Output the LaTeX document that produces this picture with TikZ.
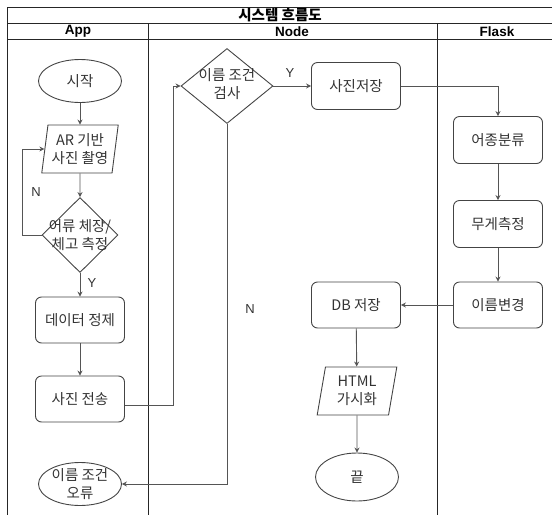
\documentclass[tikz,border=0pt]{standalone}
\usepackage{fontspec}
\setmainfont{Noto Sans CJK KR}
\newfontfamily\latf{Liberation Sans}
\usetikzlibrary{shapes.geometric,arrows.meta}
\definecolor{txt}{HTML}{333333}
\definecolor{edge}{HTML}{444444}
\definecolor{conn}{HTML}{555555}
\tikzset{
  base/.style={draw=edge, line width=0.9pt, text=txt, font=\fontsize{14.5}{18}\selectfont, align=center, inner sep=0pt},
  procbox/.style={base, rectangle, rounded corners=6pt, minimum width=89pt, minimum height=46pt},
  termbox/.style={base, ellipse, minimum width=83pt, minimum height=43pt},
  iobox/.style={base, trapezium, trapezium left angle=80, trapezium right angle=100, trapezium stretches=true, minimum width=77pt, minimum height=48pt},
  decbox/.style={base, diamond, minimum width=#1, minimum height=75pt},
  lbl/.style={text=txt, font=\fontsize{14.5}{18}\selectfont, align=center, inner sep=0pt},
  yn/.style={text=txt, font=\latf\fontsize{13}{15}\selectfont, inner sep=0pt},
  flow/.style={draw=conn, line width=0.9pt, -{Stealth[length=5pt,width=5pt]}},
  frame/.style={draw=black!85, line width=0.9pt},
  hdr/.style={font=\latf\bfseries\fontsize{13.5}{15}\selectfont, inner sep=0pt},
  ttl/.style={font=\bfseries\fontsize{14.5}{16}\selectfont, inner sep=0pt}
}
\begin{document}
\begin{tikzpicture}[x=1pt,y=-1pt]
\useasboundingbox (0,0) rectangle (552,515);
% frame
\draw[frame] (7,7) -- (552,7);
\draw[frame] (7,23) -- (552,23);
\draw[frame] (7,39) -- (552,39);
\draw[frame] (7,7) -- (7,515);
\draw[frame] (148,23) -- (148,515);
\draw[frame] (437,23) -- (437,515);
\node[ttl] (title) at (280,15) {시스템 흐름도};
\node[hdr] (happ) at (78,31.5) {App};
\node[hdr] (hnode) at (292,31.5) {Node};
\node[hdr] (hflask) at (497,31.5) {Flask};
% App lane
\node[termbox] (start) at (80,81) {시작};
\node[iobox] (ar) at (80,149) {AR 기반\\사진 촬영};
\node[decbox=76pt] (d1) at (80,235) {};
\node[lbl] (d1t) at (80,235) {어류 체장/\\체고 측정};
\node[procbox] (clean) at (80,320) {데이터 정제};
\node[procbox] (send) at (80,399) {사진 전송};
\node[termbox] (err) at (80,484) {};
\node[lbl] (errt) at (80,484) {이름 조건\\오류};
% Node lane
\node[decbox=92pt] (d2) at (227,86) {};
\node[lbl] (d2t) at (227,84) {이름 조건\\검사};
\node[procbox, minimum height=47pt] (save) at (356,86) {사진저장};
\node[procbox] (db) at (356,305) {DB 저장};
\node[iobox, minimum width=80pt] (html) at (357,391) {HTML\\가시화};
\node[termbox, minimum height=48pt] (end) at (357,477) {끝};
% Flask lane
\node[procbox, minimum height=47pt] (cls) at (498,140) {어종분류};
\node[procbox, minimum height=47pt] (wt) at (498,224) {무게측정};
\node[procbox] (rn) at (498,305) {이름변경};
% connectors
\draw[flow] (start) -- (ar);
\draw[flow] (ar) -- (d1);
\draw[flow] (d1.west) -- ++(-19,0) |- (ar.west);
\node[yn] (nlab1) at (36,192) {N};
\draw[flow] (d1) -- (clean);
\node[yn] (ylab1) at (92,283) {Y};
\draw[flow] (clean) -- (send);
\draw[flow] ([yshift=-6pt]send.east) -- ++(48,0) |- (d2.west);
\draw[flow] (d2.east) -- (save.west);
\node[yn] (ylab2) at (290,73) {Y};
\draw[flow] (d2.south) |- (err.east);
\node[yn] (nlab2) at (250,309) {N};
\draw[flow] (save.east) -| (cls.north);
\draw[flow] (cls) -- (wt);
\draw[flow] (wt) -- (rn);
\draw[flow] (rn.west) -- (db.east);
\draw[flow] (db) -- (html);
\draw[flow] (html) -- (end);
\end{tikzpicture}
\end{document}
